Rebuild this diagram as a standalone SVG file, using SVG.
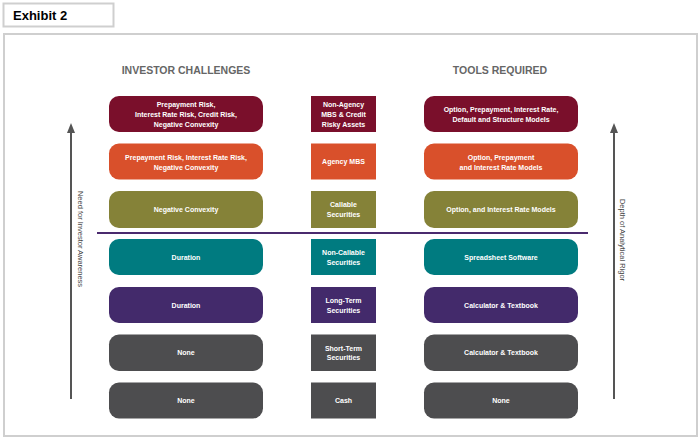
<svg xmlns="http://www.w3.org/2000/svg" width="700" height="439" viewBox="0 0 700 439">
<defs>
<style>
.frame{fill:#fff;stroke:#cfcfcf;stroke-width:2}
.hdr{font-family:"Liberation Sans",Arial,sans-serif;font-weight:bold;font-size:10.5px;fill:#666;text-anchor:middle}
.t{font-family:"Liberation Sans",Arial,sans-serif;font-weight:bold;font-size:7px;fill:#fff;text-anchor:middle}
.side{font-family:"Liberation Sans",Arial,sans-serif;font-size:7.5px;fill:#444;text-anchor:middle}
.c1{fill:#7a0f2b}.c2{fill:#d9502b}.c3{fill:#858238}.c4{fill:#007b80}.c5{fill:#432a6b}.c6{fill:#4d4d4f}
.arr{stroke:#555;stroke-width:2;fill:none}
</style>
<marker id="ah" markerWidth="10" markerHeight="8" refX="1" refY="4" orient="auto" markerUnits="userSpaceOnUse" viewBox="0 0 10 8">
<path d="M0,0 L10,4 L0,8 Z" fill="#555"/>
</marker>
</defs>
<rect width="700" height="439" fill="#fff"/>
<g id="title">
<rect class="frame" x="3.5" y="3.5" width="110" height="23"/>
<text x="13" y="20" font-family="Liberation Sans,Arial,sans-serif" font-weight="bold" font-size="13" fill="#000">Exhibit 2</text>
</g>
<rect class="frame" x="4" y="34" width="693" height="402"/>
<text class="hdr" x="186" y="74">INVESTOR CHALLENGES</text>
<text class="hdr" x="500" y="74">TOOLS REQUIRED</text>

<g id="row1">
<g id="ch1"><rect class="c1" x="109" y="96" width="154" height="36" rx="10"/>
<text class="t" x="186" y="106.5">Prepayment Risk,</text><text class="t" x="186" y="116.5">Interest Rate Risk, Credit Risk,</text><text class="t" x="186" y="126.5">Negative Convexity</text></g>
<g id="sec1"><rect class="c1" x="311" y="96" width="65" height="36"/>
<text class="t" x="343.5" y="106.5">Non-Agency</text><text class="t" x="343.5" y="116.5">MBS &amp; Credit</text><text class="t" x="343.5" y="126.5">Risky Assets</text></g>
<g id="tool1"><rect class="c1" x="424" y="96" width="154" height="36" rx="10"/>
<text class="t" x="501" y="112">Option, Prepayment, Interest Rate,</text><text class="t" x="501" y="122">Default and Structure Models</text></g>
</g>

<g id="row2">
<g id="ch2"><rect class="c2" x="109" y="143.5" width="154" height="36" rx="10"/>
<text class="t" x="186" y="159.5">Prepayment Risk, Interest Rate Risk,</text><text class="t" x="186" y="169.5">Negative Convexity</text></g>
<g id="sec2"><rect class="c2" x="311" y="143.5" width="65" height="36"/>
<text class="t" x="343.5" y="164">Agency MBS</text></g>
<g id="tool2"><rect class="c2" x="424" y="143.5" width="154" height="36" rx="10"/>
<text class="t" x="501" y="159.5">Option, Prepayment</text><text class="t" x="501" y="169.5">and Interest Rate Models</text></g>
</g>

<g id="row3">
<g id="ch3"><rect class="c3" x="109" y="191" width="154" height="37" rx="10"/>
<text class="t" x="186" y="212">Negative Convexity</text></g>
<g id="sec3"><rect class="c3" x="311" y="191" width="65" height="37"/>
<text class="t" x="343.5" y="207">Callable</text><text class="t" x="343.5" y="216.5">Securities</text></g>
<g id="tool3"><rect class="c3" x="424" y="191" width="154" height="37" rx="10"/>
<text class="t" x="501" y="212">Option, and Interest Rate Models</text></g>
</g>

<g id="row4">
<g id="ch4"><rect class="c4" x="109" y="239" width="154" height="36" rx="10"/>
<text class="t" x="186" y="259.5">Duration</text></g>
<g id="sec4"><rect class="c4" x="311" y="239" width="65" height="36"/>
<text class="t" x="343.5" y="255">Non-Callable</text><text class="t" x="343.5" y="264.5">Securities</text></g>
<g id="tool4"><rect class="c4" x="424" y="239" width="154" height="36" rx="10"/>
<text class="t" x="501" y="259.5">Spreadsheet Software</text></g>
</g>

<g id="row5">
<g id="ch5"><rect class="c5" x="109" y="287" width="154" height="36" rx="10"/>
<text class="t" x="186" y="307.5">Duration</text></g>
<g id="sec5"><rect class="c5" x="311" y="287" width="65" height="36"/>
<text class="t" x="343.5" y="303">Long-Term</text><text class="t" x="343.5" y="312.5">Securities</text></g>
<g id="tool5"><rect class="c5" x="424" y="287" width="154" height="36" rx="10"/>
<text class="t" x="501" y="307.5">Calculator &amp; Textbook</text></g>
</g>

<g id="row6">
<g id="ch6"><rect class="c6" x="109" y="334.5" width="154" height="36.5" rx="10"/>
<text class="t" x="186" y="355">None</text></g>
<g id="sec6"><rect class="c6" x="311" y="334.5" width="65" height="36.5"/>
<text class="t" x="343.5" y="350.5">Short-Term</text><text class="t" x="343.5" y="360">Securities</text></g>
<g id="tool6"><rect class="c6" x="424" y="334.5" width="154" height="36.5" rx="10"/>
<text class="t" x="501" y="355">Calculator &amp; Textbook</text></g>
</g>

<g id="row7">
<g id="ch7"><rect class="c6" x="109" y="382.5" width="154" height="36" rx="10"/>
<text class="t" x="186" y="403">None</text></g>
<g id="sec7"><rect class="c6" x="311" y="382.5" width="65" height="36"/>
<text class="t" x="343.5" y="403">Cash</text></g>
<g id="tool7"><rect class="c6" x="424" y="382.5" width="154" height="36" rx="10"/>
<text class="t" x="501" y="403">None</text></g>
</g>

<g id="connectors">
<line x1="97" y1="233" x2="588" y2="233" stroke="#4a2a6e" stroke-width="2.2"/>
<line class="arr" x1="71" y1="399" x2="71" y2="132" marker-end="url(#ah)"/>
<line class="arr" x1="614" y1="399" x2="614" y2="132" marker-end="url(#ah)"/>
</g>
<text class="side" transform="translate(78,239) rotate(90)">Need for Investor Awareness</text>
<text class="side" transform="translate(620,240) rotate(90)">Depth of Analytical Rigor</text>
</svg>
